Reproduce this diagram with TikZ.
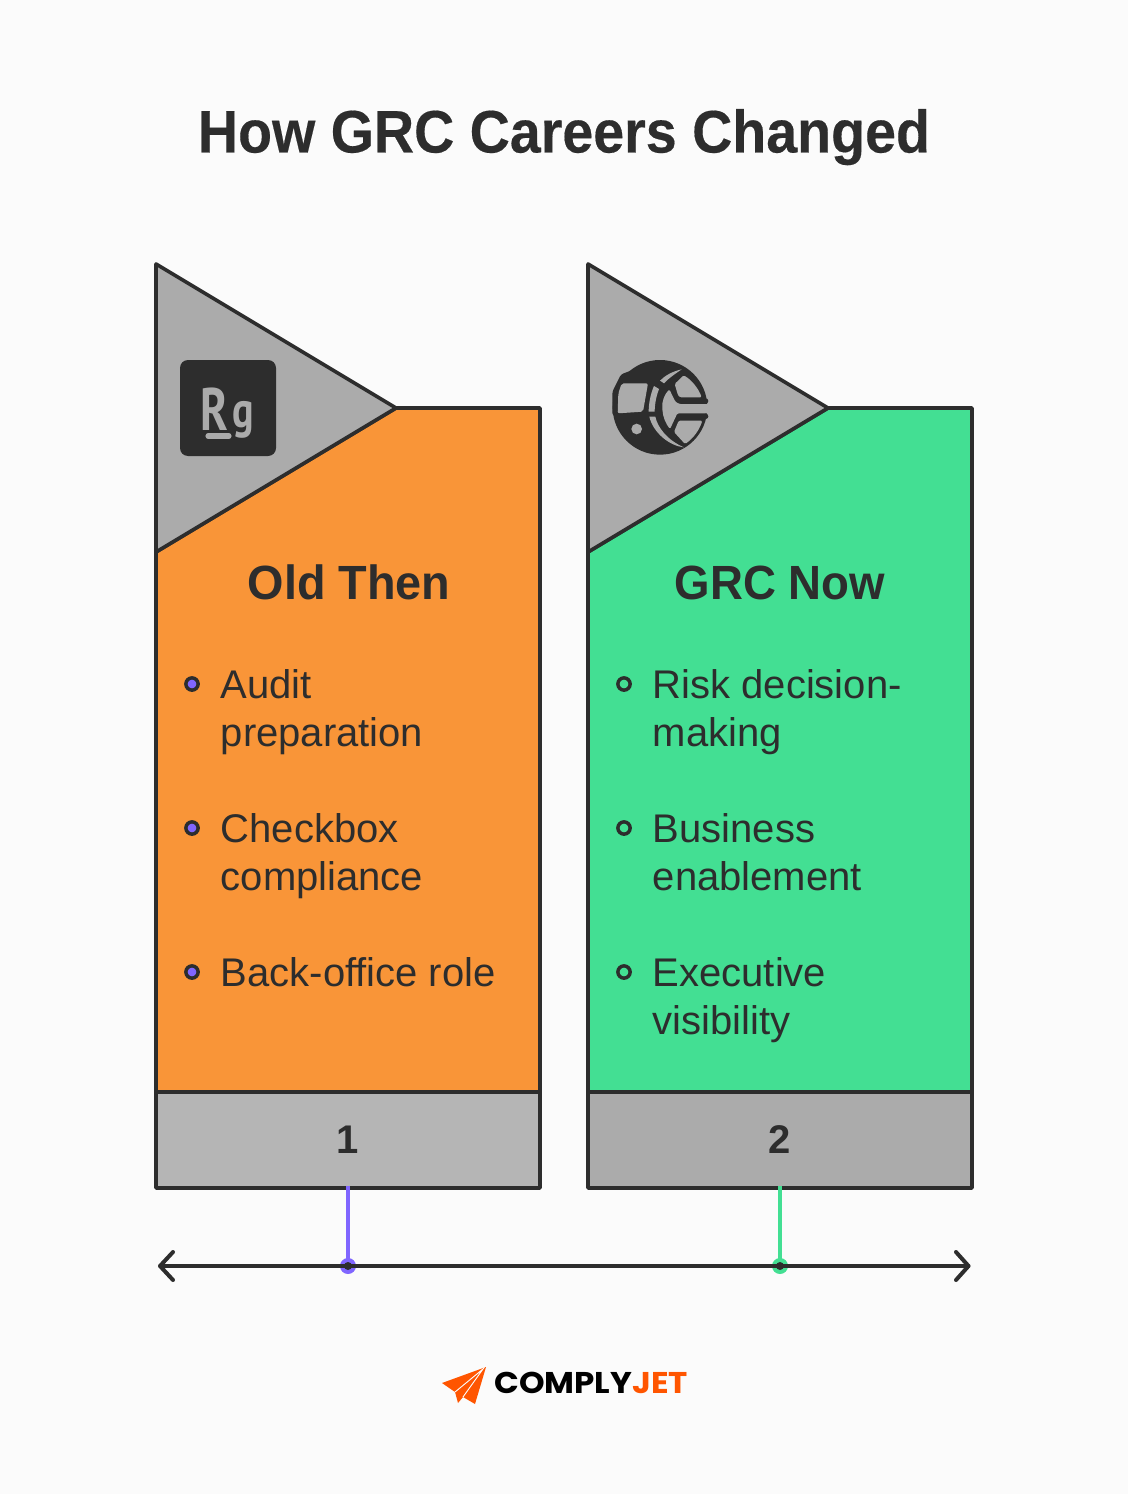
\documentclass[tikz,border=0pt]{standalone}
\usepackage{fontspec}
\setmainfont{Liberation Sans}
\newfontfamily\logofont{Poppins}
\newfontfamily\iconfont{PT Sans}
\definecolor{bgc}{HTML}{FBFBFB}
\definecolor{ink}{HTML}{2D2D2D}
\definecolor{tri}{HTML}{ABABAB}
\definecolor{footA}{HTML}{B5B5B5}
\definecolor{orangec}{HTML}{F99538}
\definecolor{greenc}{HTML}{43DF93}
\definecolor{purplec}{HTML}{8066FF}
\definecolor{logoc}{HTML}{FF5500}
\tikzset{
  px/.style={x=0.75pt,y=-0.75pt},
  edge/.style={draw=ink,line width=2.7pt,line join=round},
  titletext/.style={font=\fontsize{45}{54}\selectfont\bfseries\addfontfeature{FakeBold=0.3},text=ink,inner sep=0pt,anchor=base},
  headtext/.style={font=\fontsize{36}{43}\selectfont\bfseries,text=ink,inner sep=0pt,anchor=base},
  itemtext/.style={font=\fontsize{30}{36}\selectfont,text=ink,inner sep=0pt,anchor=base west,align=left},
  bullet/.style={circle,draw=ink,line width=2.6pt,minimum size=9.2pt,inner sep=0pt},
  footbox/.style={rectangle,edge,minimum width=288pt,minimum height=72pt,inner sep=0pt,text=ink,font=\fontsize{30}{36}\selectfont\bfseries},
  axismark/.style={circle,minimum size=12pt,inner sep=0pt},
  markdot/.style={circle,fill=ink,minimum size=6pt,inner sep=0pt},
  stem/.style={line width=2.8pt},
  axisline/.style={draw=ink,line width=3pt,line cap=round,line join=round}
}
\begin{document}
\begin{tikzpicture}[px]
\useasboundingbox (0,0) rectangle (1128,1494);
\fill[bgc] (0,0) rectangle (1128,1494);
\node[titletext] (title) at (564,152.5) {\scalebox{0.9265}[1]{How GRC Careers Changed}};

% ---- card 1
\path[fill=orangec,edge] (396,408) -- (540,408) -- (540,1092) -- (156,1092) -- (156,552) -- cycle;
\path[fill=tri,edge] (156,264) -- (396,408) -- (156,552) -- cycle;
\node[footbox,fill=footA] (foota) at (348,1140) {\raisebox{-0.7pt}{1}};
\node[headtext] (heada) at (349,599.5) {\scalebox{0.975}[1]{Old Then}};
\node[bullet,fill=purplec] (ba1) at (192,684) {};
\node[bullet,fill=purplec] (ba2) at (192,828) {};
\node[bullet,fill=purplec] (ba3) at (192,972) {};
\node[itemtext] (ia1) at (220.5,746) {Audit\\preparation};
\node[itemtext] (ia2) at (220.5,890) {Checkbox\\compliance};
\node[itemtext] (ia3) at (220.5,986) {Back-office role};

% Rg icon
\fill[ink,rounded corners=6pt] (180,360) rectangle (276,456);
\node[inner sep=0pt,anchor=base west,text=tri,font=\iconfont\bfseries\fontsize{45}{45}\selectfont] (rg) at (200,430) {\scalebox{0.77}[1]{R}\kern3pt\raisebox{2.2pt}{\scalebox{0.67}[0.85]{g}}};
\draw[tri,line width=3.8pt,line cap=round] (208,436) -- (229,436);

% ---- card 2
\path[fill=greenc,edge] (828,408) -- (972,408) -- (972,1092) -- (588,1092) -- (588,552) -- cycle;
\path[fill=tri,edge] (588,264) -- (828,408) -- (588,552) -- cycle;
\node[footbox,fill=tri] (footb) at (780,1140) {\raisebox{-0.7pt}{2}};
\node[headtext] (headb) at (780,599.5) {\scalebox{0.95}[1]{GRC Now}};
\node[bullet,fill=greenc] (bb1) at (624,684) {};
\node[bullet,fill=greenc] (bb2) at (624,828) {};
\node[bullet,fill=greenc] (bb3) at (624,972) {};
\node[itemtext] (ib1) at (652.5,746) {Risk decision-\\making};
\node[itemtext] (ib2) at (652.5,890) {Business\\enablement};
\node[itemtext] (ib3) at (652.5,1034) {Executive\\visibility};

% globe icon (coordinates are those of a 3x crop)
\begin{scope}[shift={(640,360)},x=0.25pt,y=-0.25pt]
  \fill[ink] (60,142) circle (35.5pt);
  \fill[ink,rounded corners=2pt] (-83,167) -- (-83,95) -- (-57,43) -- (5,20) -- (5,167) -- cycle;
  % opening of the C
  \fill[tri,rounded corners=1pt] (88,88) .. controls (72,105) and (66,125) .. (67,145) .. controls (68,170) and (78,192) .. (90,207) -- (105,175) -- (112,160) -- (230,160) -- (230,132) -- (118,132) -- (106,125) -- cycle;
  \fill[ink] (197,123) circle (2pt);
  \fill[ink] (197,169) circle (2pt);
  % panels
  \fill[tri,rounded corners=1pt] (104,72) -- (131,46) .. controls (155,60) and (175,85) .. (185,112) -- (120,112) -- (114,106) -- cycle;
  \fill[tri,rounded corners=1pt] (116,182) -- (187,182) .. controls (178,210) and (160,235) .. (135,252) -- (102,216) -- cycle;
  \fill[tri,rounded corners=1.5pt] (-55,70) -- (24,70) -- (9,155) -- (-67,160) -- (-65,100) -- cycle;
  % crescent
  \fill[tri] (125,28) .. controls (95,35) and (75,47) .. (60,62) -- (72,70) .. controls (85,55) and (105,42) .. cycle;
  \fill[tri] (42,78) .. controls (32,100) and (26,130) .. (26,155) -- (44,155) .. controls (44,130) and (50,105) .. (57,87) -- cycle;
  \fill[tri] (28,170) -- (46,170) .. controls (52,200) and (80,240) .. (132,262) .. controls (90,258) and (40,220) .. cycle;
  \fill[tri] (-10,207) circle (4pt);
\end{scope}

% ---- timeline
\coordinate (axl) at (160,1266);
\coordinate (axr) at (968.5,1266);
\node[axismark,fill=purplec] (ma) at (348,1266) {};
\node[axismark,fill=greenc] (mb) at (780,1266) {};
\draw[stem,purplec] ([yshift=2.8pt]foota.south) -- (ma.center);
\draw[stem,greenc] ([yshift=2.8pt]footb.south) -- (mb.center);
\draw[axisline] (axl) -- (axr);
\draw[axisline] (173,1252) -- (axl) -- (173,1280);
\draw[axisline] (956,1252) -- (axr) -- (956,1280);
\node[markdot] (da) at (ma) {};
\node[markdot] (db) at (mb) {};

% ---- logo
\fill[logoc] (442,1383) -- (486,1367) -- (475,1404) -- (463,1397) -- (458,1403) -- (455,1392) -- cycle;
\draw[bgc,line width=0.7pt] (455,1392) -- (483,1369) -- (463,1397);
\node[inner sep=0pt,anchor=base west,font=\logofont\bfseries\fontsize{22.5}{22.5}\selectfont] (logo) at (494,1393) {\scalebox{1.085}[1]{\textcolor{black}{COMPLY}\textcolor{logoc}{JET}}};
\end{tikzpicture}
\end{document}
